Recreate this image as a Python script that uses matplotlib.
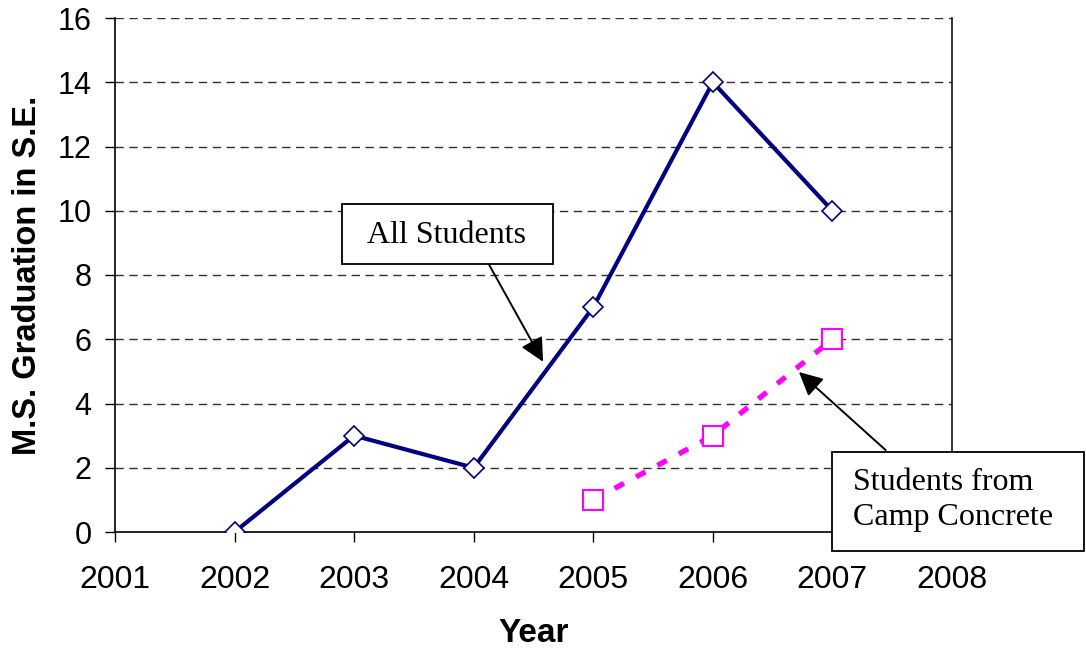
import numpy as np
import matplotlib.pyplot as plt
from matplotlib.patches import Rectangle

# M.S. graduations in structural engineering per year
years_all = [2002, 2003, 2004, 2005, 2006, 2007]
grads_all = [0, 3, 2, 7, 14, 10]

years_camp = [2005, 2006, 2007]
grads_camp = [1, 3, 6]

x_ticks = [2001, 2002, 2003, 2004, 2005, 2006, 2007, 2008]
y_ticks = [0, 2, 4, 6, 8, 10, 12, 14, 16]

plt.rcParams['font.family'] = ['Liberation Sans', 'DejaVu Sans']
serif = ['Liberation Serif', 'DejaVu Serif']

fig = plt.figure(figsize=(10.86, 6.49), dpi=100)
ax = fig.add_axes([115 / 1086, 1 - 532 / 649, 837 / 1086, 514 / 649])

# dashed horizontal gridlines
for y in y_ticks[1:]:
    ax.axhline(y, color='#303030', linestyle=(0, (6, 4)), linewidth=1.0, zorder=1)

ax.plot(years_all, grads_all, color='#000080', linewidth=3.0,
        marker='D', markersize=10, markerfacecolor='white',
        markeredgecolor='#000080', markeredgewidth=1.2, zorder=4)

ax.plot(years_camp, grads_camp, color='#FF00FF', linewidth=3.8,
        linestyle=(0, (2.0, 2.6)), marker='s', markersize=15,
        markerfacecolor='white', markeredgecolor='#FF00FF',
        markeredgewidth=1.5, zorder=3)

ax.set_xlim(2001, 2008)
ax.set_ylim(0, 16)
ax.set_xticks(x_ticks)
ax.set_yticks(y_ticks)
ax.tick_params(axis='x', direction='out', length=7, width=1, pad=17, labelsize=23)
ax.tick_params(axis='y', direction='out', length=7, width=1, pad=10, labelsize=22)

ax.spines['top'].set_visible(False)
ax.spines['right'].set_color('#101010')
for s in ['left', 'bottom', 'right']:
    ax.spines[s].set_linewidth(1.2)

ax.set_xlabel('Year', fontsize=24, fontweight='bold')
ax.set_ylabel('M.S. Graduation in S.E.', fontsize=23.5, fontweight='bold')
ax.xaxis.set_label_coords(0.5, -0.168)
ax.yaxis.set_label_coords(-0.086, 0.5)

# callout: all students
ax.add_patch(Rectangle((2002.895, 8.34), 1.765, 1.87, facecolor='white',
                       edgecolor='black', linewidth=1.3, zorder=6))
ax.text(2003.775, 9.245, 'All Students', fontsize=23, family=serif,
        ha='center', va='center', zorder=7)
ax.annotate('', xy=(2004.58, 5.3), xytext=(2004.13, 8.31),
            arrowprops=dict(arrowstyle='-|>,head_length=0.6,head_width=0.3',
                            color='black', linewidth=1.4, mutation_scale=24,
                            shrinkA=0, shrinkB=0), zorder=5)

# callout: students from camp concrete
ax.add_patch(Rectangle((2007.0, -0.59), 2.1, 3.08, facecolor='white',
                       edgecolor='black', linewidth=1.3, zorder=6,
                       clip_on=False))
ax.text(2007.175, 1.0, 'Students from\nCamp Concrete', fontsize=23,
        family=serif, ha='left', va='center', linespacing=1.25, zorder=7)
ax.annotate('', xy=(2006.72, 4.98), xytext=(2007.445, 2.55),
            arrowprops=dict(arrowstyle='-|>,head_length=0.6,head_width=0.3',
                            color='black', linewidth=1.4, mutation_scale=24,
                            shrinkA=0, shrinkB=0),
            annotation_clip=False, zorder=5)

fig.savefig('out.png', dpi=100, facecolor='white')
